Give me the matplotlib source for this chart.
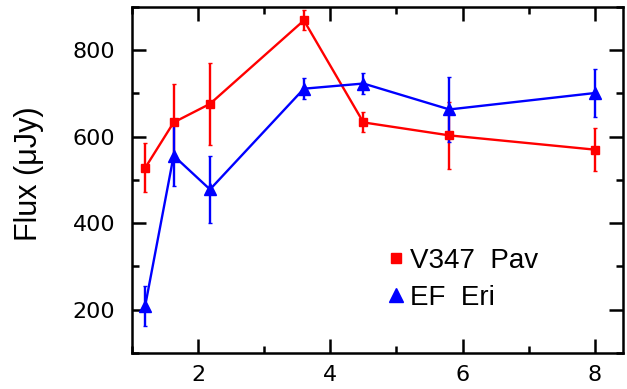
import matplotlib
matplotlib.use("Agg")
import matplotlib.pyplot as plt
from matplotlib.lines import Line2D
from matplotlib.ticker import MultipleLocator

# wavelength (micron) and flux (microJy)
wave = [1.2, 1.63, 2.18, 3.6, 4.5, 5.8, 8.0]

v347_flux = [528, 633, 676, 869, 633, 603, 570]
v347_err = [57, 88, 95, 23, 23, 77, 50]

efe_flux = [209, 556, 478, 711, 723, 663, 701]
efe_err = [46, 70, 78, 24, 24, 76, 55]

labels = ["V347  Pav", "EF  Eri"]

plt.rcParams["font.family"] = ["Liberation Sans", "DejaVu Sans"]

fig = plt.figure(figsize=(6.27, 3.89), dpi=100)
ax = fig.add_axes([0.2105, 0.093, 0.7825, 0.889])

ax.errorbar(wave, v347_flux, yerr=v347_err, color="#ff0000", marker="s",
            markersize=6, lw=1.7, elinewidth=1.7, capsize=1.5, zorder=3)
ax.errorbar(wave, efe_flux, yerr=efe_err, color="#0000ff", marker="^",
            markersize=9, lw=1.7, elinewidth=1.7, capsize=1.5, zorder=3)

ax.set_xlim(1.0, 8.42)
ax.set_ylim(100, 900)
ax.xaxis.set_major_locator(MultipleLocator(2))
ax.xaxis.set_minor_locator(MultipleLocator(1))
ax.yaxis.set_major_locator(MultipleLocator(200))
ax.yaxis.set_minor_locator(MultipleLocator(100))
ax.tick_params(which="both", direction="in", top=True, right=True, width=1.8,
               labelsize=16, labelfontfamily="DejaVu Sans")
ax.tick_params(which="major", length=10)
ax.tick_params(which="minor", length=5)
ax.tick_params(axis="y", pad=12)
ax.tick_params(axis="x", pad=9)
for s in ax.spines.values():
    s.set_linewidth(1.8)

ax.set_ylabel("Flux (\u03bcJy)", fontsize=22)
ax.yaxis.set_label_coords(-0.18, 0.517)

handles = [
    Line2D([], [], ls="none", marker="s", color="#ff0000", markersize=6.5),
    Line2D([], [], ls="none", marker="^", color="#0000ff", markersize=10),
]
ax.legend(handles, labels, loc="center left", bbox_to_anchor=(0.522, 0.212),
          frameon=False, fontsize=20, handlelength=0.6, handletextpad=0.18,
          labelspacing=0.4, borderpad=0, borderaxespad=0)

fig.savefig("out.png", dpi=100)
